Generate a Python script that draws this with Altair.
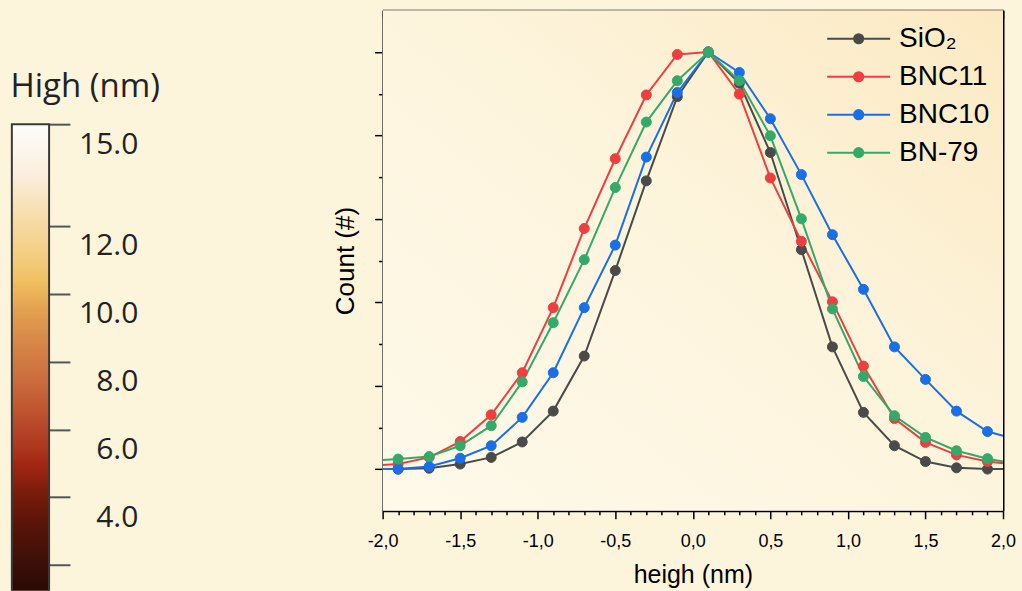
import altair as alt
import pandas as pd

# ---------------- data ----------------
# x positions (nm); first/last entries are where each line meets the plot frame (no marker)
x_vals = [-2.0, -1.9, -1.7, -1.5, -1.3, -1.1, -0.9, -0.7, -0.5, -0.3, -0.1,
          0.1, 0.3, 0.5, 0.7, 0.9, 1.1, 1.3, 1.5, 1.7, 1.9, 2.0]
has_marker = [False] + [True] * 20 + [False]

sio2 = [0.0, 0.0, 0.002, 0.012, 0.028, 0.065, 0.139, 0.271, 0.476, 0.691, 0.893,
        1.0, 0.925, 0.759, 0.526, 0.293, 0.136, 0.056, 0.018, 0.003, 0.0, 0.0]
bnc11 = [0.010, 0.012, 0.028, 0.066, 0.130, 0.231, 0.387, 0.577, 0.744, 0.897, 0.994,
         1.0, 0.899, 0.698, 0.546, 0.401, 0.247, 0.121, 0.064, 0.034, 0.018, 0.014]
bnc10 = [0.0, 0.0, 0.006, 0.026, 0.056, 0.124, 0.231, 0.387, 0.537, 0.748, 0.903,
         1.0, 0.951, 0.840, 0.706, 0.562, 0.431, 0.293, 0.215, 0.139, 0.090, 0.080]
bn79 = [0.022, 0.024, 0.030, 0.056, 0.104, 0.209, 0.351, 0.502, 0.675, 0.832, 0.931,
        1.0, 0.931, 0.799, 0.600, 0.384, 0.222, 0.128, 0.076, 0.044, 0.025, 0.018]

series_names = ["SiO\u2082", "BNC11", "BNC10", "BN-79"]
series_colors = ["#4a4a4a", "#ee3f40", "#1b6fe4", "#34aa68"]
series_values = [sio2, bnc11, bnc10, bn79]

x_ticks = [round(-2.0 + 0.1 * i, 1) for i in range(41)]
y_ticks = [round(0.1 * i, 1) for i in range(11)]

# colour bar (High, nm)
cbar_min, cbar_max = 0.0, 15.0
cbar_ticks = [2, 4, 6, 8, 10, 12, 15]
cbar_stop_values = [15, 13.5, 12.0, 11.0, 10.4, 9.55, 8.6, 7.6, 6.6, 5.6, 4.9, 4.16, 3.16, 2.18, 1.27, 0.0]
cbar_stop_colors = ["#fdfdfb", "#fbeedd", "#f6d9a0", "#f3cc7c", "#f1c060", "#e3a250",
                    "#d78848", "#cc7040", "#c05530", "#b03a22", "#a02512", "#7a1c0c",
                    "#581408", "#3e1008", "#2a0a05", "#180402"]

# ---------------- tables ----------------
rows = []
for name, vals in zip(series_names, series_values):
    for xv, yv, m in zip(x_vals, vals, has_marker):
        rows.append({"x": xv, "count": yv, "series": name, "marker": m})
df = pd.DataFrame(rows)

cb_df = pd.DataFrame({"lo": [cbar_min], "hi": [cbar_max], "x0": [0.0], "x1": [1.0]})
bg_df = pd.DataFrame({"bg": [0]})

# ---------------- styling helpers ----------------
W, H = 621, 501
AX_FONT = "Liberation Sans"
major_x = "abs(datum.value * 2 - round(datum.value * 2)) < 0.01"
major_y = "abs(datum.value * 5 - round(datum.value * 5)) < 0.01"
x_label_expr = (major_x + " ? replace(replace(format(datum.value, '.1f'), '.', ','), '\u2212', '-') : ''")

common_axis = dict(domainColor="black", domainWidth=2, tickColor="black", tickWidth=1.5,
                   grid=False, labelOverlap=False, labelFlush=False)

x_scale = alt.Scale(domain=[-2.0, 2.0], nice=False, zero=False)
y_scale = alt.Scale(domain=[-0.1, 1.1], nice=False, zero=False)
color_scale = alt.Scale(domain=series_names, range=series_colors)

# legend symbol: a line with a dot in the middle (path units scaled by sqrt(size)/2 = 13.5 px)
sym_path = ("M-2.333,0L2.333,0M0.34,0A0.34,0.34,0,1,1,-0.34,0"
            "A0.34,0.34,0,1,1,0.34,0Z")
legend = alt.Legend(title=None, orient="none", legendX=817, legendY=14,
                    labelFont=AX_FONT, labelFontSize=28, labelColor="black",
                    labelOffset=26, symbolOffset=18, symbolType=sym_path, symbolSize=729,
                    symbolStrokeWidth=2, symbolOpacity=1, rowPadding=9, padding=0)

plot_bg = {"gradient": "linear", "x1": 0, "y1": 1, "x2": 1, "y2": 0,
           "stops": [{"offset": 0, "color": "#fef9ea"},
                     {"offset": 0.55, "color": "#fdf4dc"},
                     {"offset": 1, "color": "#fbe9c2"}]}

background = alt.Chart(bg_df).mark_rect(fill=plot_bg).encode(opacity=alt.value(1))

base = alt.Chart(df)

lines = base.mark_line(strokeWidth=2, clip=True).encode(
    x=alt.X("x:Q", scale=x_scale,
            axis=alt.Axis(orient="bottom", values=x_ticks,
                          tickSize={"condition": {"test": major_x, "value": 8}, "value": 4},
                          labelExpr=x_label_expr, labelFont=AX_FONT, labelFontSize=18,
                          labelColor="black", labelPadding=14,
                          title="heigh (nm)", titleFont=AX_FONT, titleFontSize=25,
                          titleFontWeight="normal", titleColor="black", titlePadding=12,
                          **common_axis)),
    y=alt.Y("count:Q", scale=y_scale,
            axis=alt.Axis(orient="left", values=y_ticks, labels=False,
                          tickSize={"condition": {"test": major_y, "value": 8}, "value": 4},
                          title="Count (#)", titleFont=AX_FONT, titleFontSize=26,
                          titleFontWeight="normal", titleColor="black", titlePadding=15,
                          **common_axis)),
    stroke=alt.Stroke("series:N", scale=color_scale, legend=legend),
    order=alt.Order("x:Q"),
)

points = base.transform_filter("datum.marker").mark_point(
    filled=True, size=100, strokeWidth=1, opacity=1
).encode(
    x=alt.X("x:Q", scale=x_scale,
            axis=alt.Axis(orient="bottom", offset=-H, values=x_ticks, labels=False, title=None,
                          tickSize={"condition": {"test": major_x, "value": 8}, "value": 4},
                          **common_axis)),
    y=alt.Y("count:Q", scale=y_scale,
            axis=alt.Axis(orient="left", offset=-W, values=y_ticks, labels=False, title=None,
                          tickSize={"condition": {"test": major_y, "value": 8}, "value": 4},
                          **common_axis)),
    fill=alt.Fill("series:N", scale=color_scale, legend=legend),
    stroke=alt.Stroke("series:N", scale=color_scale, legend=legend),
)

main = alt.layer(background, lines, points).resolve_axis(
    x="independent", y="independent"
).properties(width=W, height=H)

# ---------------- colour bar ----------------
cb_gradient = {"gradient": "linear", "x1": 0, "y1": 0, "x2": 0, "y2": 1,
               "stops": [{"offset": (cbar_max - v) / (cbar_max - cbar_min), "color": c}
                         for v, c in zip(cbar_stop_values, cbar_stop_colors)]}

colorbar = alt.Chart(cb_df).mark_rect(
    fill=cb_gradient, stroke="#3a3a3a", strokeWidth=2, clip=True
).encode(
    x=alt.X("x0:Q", scale=alt.Scale(domain=[-0.05, 1.05], nice=False, zero=False), axis=None),
    x2="x1:Q",
    y=alt.Y("lo:Q", scale=alt.Scale(domain=[1.242, 18.36], nice=False, zero=False),
            axis=alt.Axis(orient="right", offset=-2, values=cbar_ticks, domain=False, grid=False,
                          tickSize=21, tickColor="#555555", tickWidth=2,
                          labelExpr="datum.value < 3 ? '' : format(datum.value, '.1f')",
                          labelFont="Open Sans", labelFontSize=30, labelColor="#222222",
                          labelAlign="right", labelBaseline="top", labelPadding=68,
                          labelOffset=5, labelOverlap=False, labelFlush=False,
                          title="High (nm)", titleFont="Open Sans", titleFontSize=33,
                          titleFontWeight="normal", titleColor="#222222", titleAngle=0,
                          titleAlign="left", titleBaseline="alphabetic",
                          titleX=-39, titleY=86)),
    y2="hi:Q",
).properties(width=41, height=581)

chart = alt.hconcat(colorbar, main, spacing=173).properties(
    background="#fdf4dc",
    padding={"left": 10, "top": 9, "right": 6, "bottom": 0},
).configure_view(stroke=None)

chart.save("out.html", embed_options={"renderer": "svg", "actions": False})
